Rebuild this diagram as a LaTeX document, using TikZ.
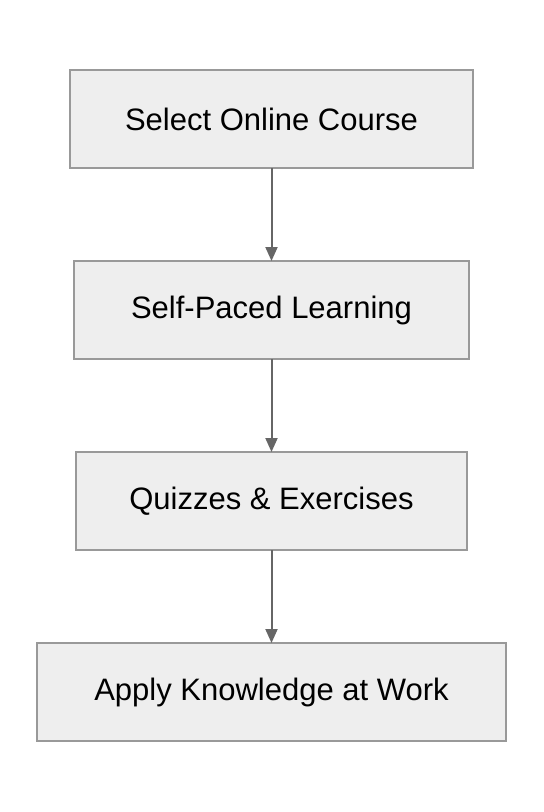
\documentclass[tikz,border=0pt]{standalone}
\usepackage{fontspec}
\setmainfont{Liberation Sans}
\usetikzlibrary{positioning,arrows.meta}
\definecolor{boxfill}{HTML}{EEEEEE}
\definecolor{boxline}{HTML}{999999}
\definecolor{arrowline}{HTML}{666666}
\tikzset{
  stepbox/.style={draw=boxline,fill=boxfill,line width=1.5pt,minimum height=98pt,
    font=\fontsize{31}{36}\selectfont,inner sep=0pt,outer sep=0pt},
  flow/.style={->,>={Triangle[width=12pt,length=14pt]},draw=arrowline,line width=2pt}
}
\begin{document}
\begin{tikzpicture}[x=1pt,y=-1pt]
\useasboundingbox (0,0) rectangle (544,812);
	\node[stepbox,minimum width=403pt] at (271.5,119) (select) {Select Online Course};
	\node[stepbox,minimum width=395pt,below=93pt of select] (self) {Self-Paced Learning};
	\node[stepbox,minimum width=391pt,below=93pt of self] (quiz) {Quizzes \& Exercises};
	\node[stepbox,minimum width=469pt,below=93pt of quiz] (apply) {Apply Knowledge at Work};
	\draw[flow] (select) -- (self);
	\draw[flow] (self) -- (quiz);
	\draw[flow] (quiz) -- (apply);
\end{tikzpicture}
\end{document}
